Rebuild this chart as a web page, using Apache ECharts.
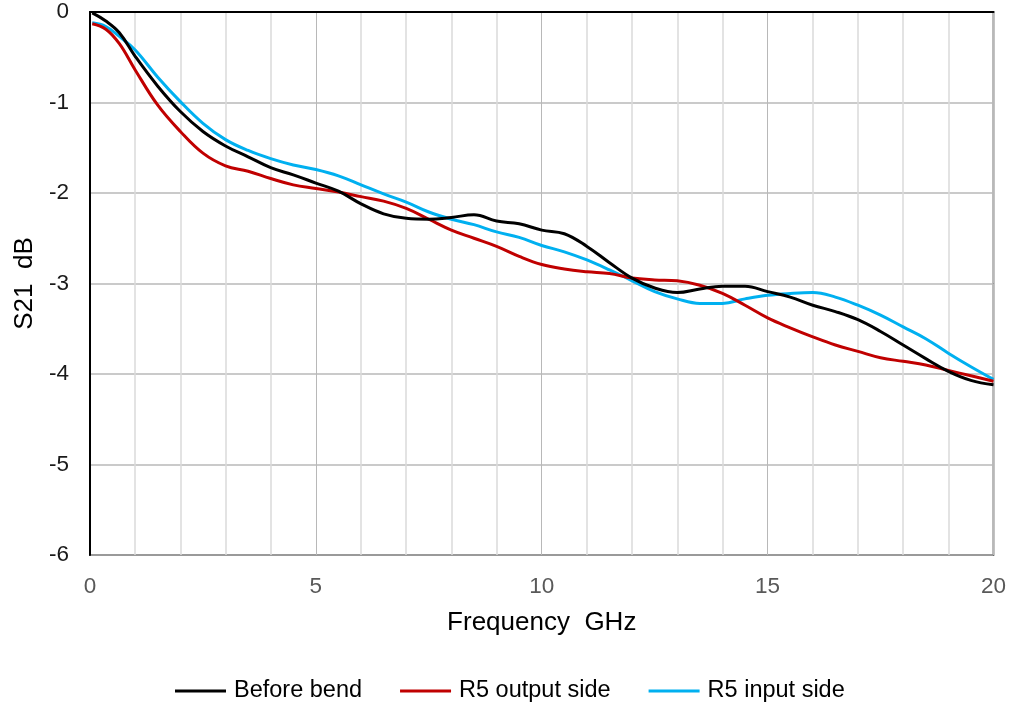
<!DOCTYPE html>
<html>
<head>
<meta charset="utf-8">
<script src="https://cdn.jsdelivr.net/npm/echarts@6/dist/echarts.min.js"></script>
<style>
html,body{margin:0;padding:0;background:#fff;}
#s21-chart{width:1009px;height:702px;}
</style>
</head>
<body>
<div id="s21-chart"></div>
<script>
var freq = [0.05,0.35,0.65,1,1.5,2,2.5,3,3.5,4,4.5,5,5.5,6,6.5,7,7.5,8,8.5,9,9.5,10,
  10.5,11,11.5,12,12.5,13,13.5,14,14.5,15,15.5,16,16.5,17,17.5,18,18.5,19,19.5,20]
var beforeBend = [-0.01,-0.1,-0.23,-0.49,-0.82,-1.1,-1.32,-1.48,-1.6,-1.72,-1.8,-1.89,-1.98,-2.12,-2.23,-2.28,-2.29,-2.27,-2.24,-2.31,-2.34,-2.41,
  -2.45,-2.59,-2.77,-2.94,-3.05,-3.1,-3.06,-3.03,-3.03,-3.09,-3.15,-3.24,-3.31,-3.4,-3.53,-3.68,-3.83,-3.97,-4.07,-4.12]
var r5Output = [-0.13,-0.19,-0.35,-0.64,-1.03,-1.32,-1.56,-1.7,-1.76,-1.84,-1.91,-1.95,-1.99,-2.04,-2.09,-2.17,-2.29,-2.41,-2.5,-2.59,-2.7,-2.79,
  -2.84,-2.87,-2.89,-2.94,-2.96,-2.97,-3.02,-3.11,-3.24,-3.38,-3.49,-3.59,-3.68,-3.75,-3.82,-3.86,-3.9,-3.96,-4.02,-4.08]
var r5Input = [-0.12,-0.16,-0.27,-0.42,-0.72,-0.99,-1.23,-1.41,-1.53,-1.62,-1.69,-1.74,-1.81,-1.91,-2.01,-2.1,-2.21,-2.29,-2.35,-2.43,-2.49,-2.58,
  -2.65,-2.74,-2.85,-2.97,-3.09,-3.17,-3.22,-3.22,-3.17,-3.13,-3.11,-3.1,-3.15,-3.24,-3.35,-3.48,-3.61,-3.77,-3.92,-4.06]
var seriesNames = ['Before bend','R5 output side','R5 input side']
var seriesColors = ['#000000','#C00000','#00B0F0']

function pairs(ys){
    var out=[]
    for (var i=0;i<freq.length;i++){
        out.push([freq[i],ys[i]])
    }
    return out
}

var myChart = echarts.init(document.getElementById('s21-chart'));
var allData = [beforeBend,r5Output,r5Input]
var series = []
for (var k=0;k<allData.length;k++){
    series.push({
        name: seriesNames[k],
        type: 'line',
        data: pairs(allData[k]),
        smooth: 0.4,
        symbol: 'none',
        color: seriesColors[k],
        lineStyle: {width: 3, color: seriesColors[k]},
        z: 10-k
    })
}

var option = {
    animation: false,
    textStyle: {fontFamily: 'Liberation Sans, Arial, sans-serif'},
    grid: {left: 90, right: 13, top: 12, bottom: 147, show: true, borderColor: '#000', borderWidth: 1.5, backgroundColor: 'transparent'},
    legend: {
        top: 674,
        left: 170,
        icon: 'rect',
        itemWidth: 51,
        itemHeight: 3,
        itemGap: 38,
        textStyle: {fontSize: 23.5, color: '#000', padding: [0,0,0,3]},
        data: seriesNames
    },
    xAxis: {
        type: 'value',
        min: 0, max: 20, interval: 5,
        name: 'Frequency  GHz',
        nameLocation: 'middle',
        nameGap: 55,
        nameTextStyle: {fontSize: 26, color: '#000'},
        axisLine: {show: true, lineStyle: {color: '#000', width: 2}},
        axisTick: {show: false},
        axisLabel: {fontSize: 22.5, color: '#595959', margin: 20},
        splitLine: {show: true, lineStyle: {color: '#b8b8b8', width: 1}},
        minorTick: {show: false, splitNumber: 5},
        minorSplitLine: {show: true, lineStyle: {color: '#dadada', width: 1.5}}
    },
    yAxis: {
        type: 'value',
        min: -6, max: 0, interval: 1,
        name: 'S21  dB',
        nameLocation: 'middle',
        nameGap: 49,
        nameTextStyle: {fontSize: 26, color: '#000'},
        axisLine: {show: true, lineStyle: {color: '#000', width: 2}},
        axisTick: {show: false},
        axisLabel: {fontSize: 22.5, color: '#1a1a1a', margin: 21},
        splitLine: {show: true, lineStyle: {color: '#b8b8b8', width: 1.5}}
    },
    series: series
};
option && myChart.setOption(option);
</script>
</body>
</html>
